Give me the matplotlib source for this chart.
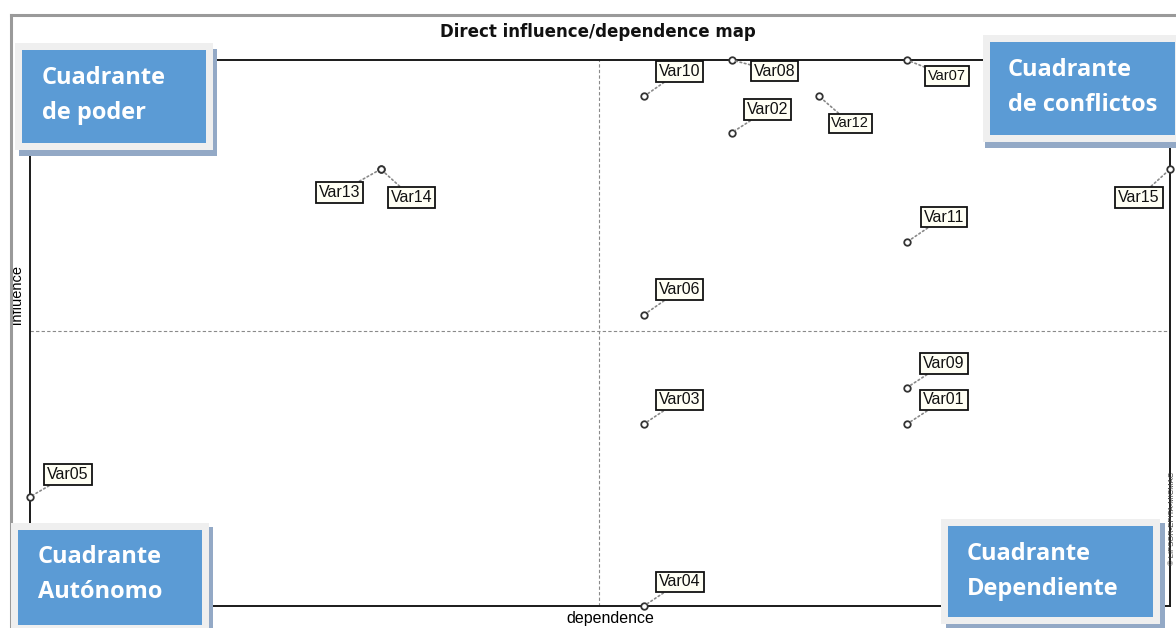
import matplotlib
matplotlib.use("Agg")
import matplotlib.pyplot as plt
from matplotlib.patches import Rectangle

# -- data ---------------------------------------------------------------------
variables = ["Var01", "Var02", "Var03", "Var04", "Var05", "Var06", "Var07",
             "Var08", "Var09", "Var10", "Var11", "Var12", "Var13", "Var14",
             "Var15"]
dependence = [12, 10, 9, 9, 2, 9, 12, 10, 12, 9, 12, 11, 6, 6, 15]
influence = [6, 14, 6, 1, 4, 9, 16, 16, 7, 15, 11, 15, 13, 13, 13]
dep_mid = 8.49
inf_mid = 8.55

quadrants = [
    ("Cuadrante", "de poder"),
    ("Cuadrante", "de conflictos"),
    ("Cuadrante", "Autónomo"),
    ("Cuadrante", "Dependiente"),
]

# label offsets from the point, in pixels (x right, y up)
label_offset = {
    "Var01": (37, 24), "Var02": (36, 23), "Var03": (36, 24),
    "Var04": (36, 24), "Var05": (38, 22), "Var06": (36, 25),
    "Var07": (40, -16), "Var08": (43, -11), "Var09": (37, 24),
    "Var10": (36, 25), "Var11": (37, 25), "Var12": (31, -27),
    "Var13": (-41, -23), "Var14": (31, -28), "Var15": (-31, -28),
}

W, H = 1176, 628
fig = plt.figure(figsize=(W / 100, H / 100), dpi=100)
fig.patch.set_facecolor("white")

ax = fig.add_axes([30 / W, (H - 606) / H, 1140 / W, 546 / H])
ax.set_xlim(min(dependence), max(dependence))
ax.set_ylim(min(influence), max(influence))
ax.set_xticks([])
ax.set_yticks([])
for sp in ax.spines.values():
    sp.set_color("#1a1a1a")
    sp.set_linewidth(1.4)

ax.axvline(dep_mid, color="#8a8a8a", ls=(0, (3, 2)), lw=0.8, zorder=1)
ax.axhline(inf_mid, color="#8a8a8a", ls=(0, (3, 2)), lw=0.8, zorder=1)

ax.scatter(dependence, influence, s=22, facecolor="white",
           edgecolor="#333333", linewidth=1.3, zorder=5, clip_on=False)

for name, x, y in zip(variables, dependence, influence):
    small = name in ("Var07", "Var12")
    ax.annotate(name, (x, y), xytext=label_offset[name],
                textcoords="offset pixels", ha="center", va="center",
                family="Liberation Sans", fontsize=10.5 if small else 11.5,
                color="#111111", zorder=6, annotation_clip=False,
                bbox=dict(boxstyle="square,pad=0.18", fc="#fffff4",
                          ec="#111111", lw=1.3),
                arrowprops=dict(arrowstyle="-", color="#888888", ls=":",
                                lw=1.2, shrinkA=0, shrinkB=3))

ax.set_xlabel("dependence", family="Liberation Sans", fontsize=11.5,
              labelpad=0)
ax.xaxis.set_label_coords(580 / 1140, -5 / 546)
ax.set_ylabel("influence", family="Liberation Sans", fontsize=10.5,
              labelpad=0)
ax.yaxis.set_label_coords(-6 / 1140, 0.57)

# -- overlay in pixel coordinates: frame, title and quadrant boxes -----------
ov = fig.add_axes([0, 0, 1, 1])
ov.set_xlim(0, W)
ov.set_ylim(H, 0)
ov.axis("off")
ov.patch.set_visible(False)

ov.plot([11, W], [15, 15], color="#9a9a9a", lw=2.2)
ov.plot([11, 11], [15, H], color="#9a9a9a", lw=2.2)

ov.text(598, 32, "Direct influence/dependence map", ha="center",
        va="center", fontsize=12, weight="bold", family="DejaVu Sans",
        color="#111111")

ov.text(1172, 518, "© LIPSOR-EPITA-MICMAC", rotation=90, ha="center",
        va="center", fontsize=5.5, color="#444444", family="Liberation Sans")

# (frame x0, y0, x1, y1), shadow offset, text x, first line y
boxes = [
    ((15, 43, 213, 150), (4, 6), 42, 78),
    ((983, 35, 1182, 142), (2, 6), 1008, 70),
    ((11, 523, 209, 632), (4, 4), 38, 557),
    ((941, 519, 1160, 624), (5, 4), 967, 554),
]
blue = "#5b9bd5"

for lines, ((x0, y0, x1, y1), (sx, sy), tx, ty) in zip(quadrants, boxes):
    ov.add_patch(Rectangle((x0 + sx, y0 + sy), x1 - x0, y1 - y0,
                           fc="#93a9c6", ec="none", zorder=10))
    ov.add_patch(Rectangle((x0, y0), x1 - x0, y1 - y0,
                           fc="#efefef", ec="none", zorder=11))
    ov.add_patch(Rectangle((x0 + 7, y0 + 7), x1 - x0 - 14, y1 - y0 - 14,
                           fc=blue, ec="none", zorder=12))
    for i, line in enumerate(lines):
        ov.text(tx, ty + 35 * i, line, ha="left", va="center",
                fontsize=17, weight="bold", family="Open Sans",
                color="white", zorder=13)

fig.savefig("out.png", dpi=100)
